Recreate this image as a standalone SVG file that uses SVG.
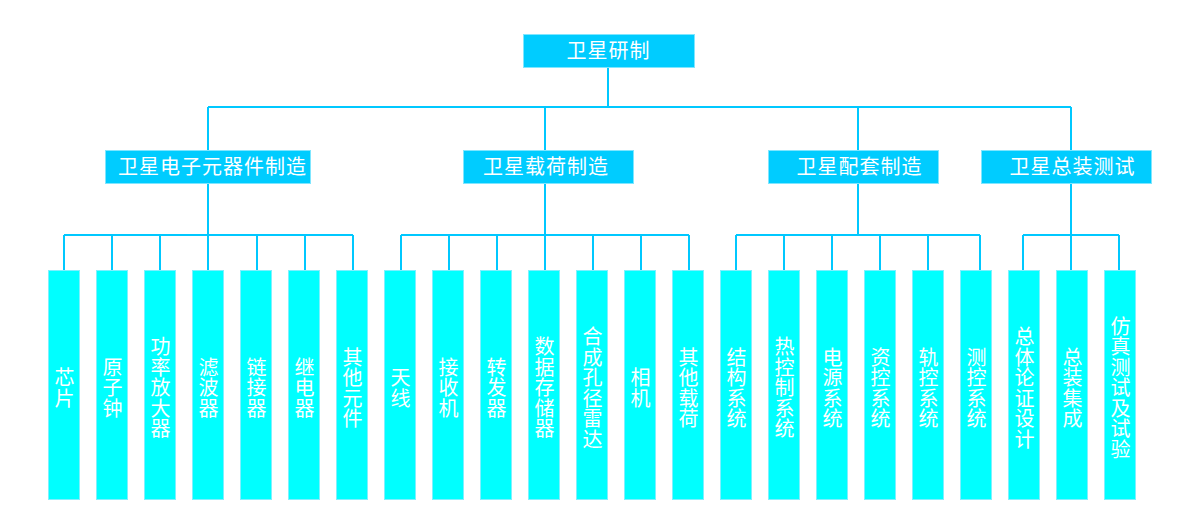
<svg xmlns="http://www.w3.org/2000/svg" width="1182" height="532" viewBox="0 0 1182 532">
<style>
.hd{fill:#00CCFF;stroke:#7FE6FF;stroke-width:1}
.lf{fill:#00FFFF;stroke:#7FF0FF;stroke-width:1}
.t{font-family:"Noto Sans CJK SC","Noto Sans",sans-serif;font-size:20px;fill:#FFFFFF;text-anchor:middle}
.ht{letter-spacing:1px}
.v{writing-mode:vertical-rl;text-orientation:upright;letter-spacing:0.5px}
.cn{stroke:#00C8FF;stroke-width:2;fill:none}
</style>
<rect width="1182" height="532" fill="#FFFFFF"/>
<g id="connectors" class="cn">
<path d="M608 68V107M208 107H1071M208 107V150M545 107V150M858 107V150M1071 107V150"/>
<path d="M208 184V235M64 235H353M64 235V270M112 235V270M160 235V270M208 235V270M257 235V270M305 235V270M353 235V270"/>
<path d="M545 184V235M401 235H689M401 235V270M449 235V270M497 235V270M545 235V270M593 235V270M641 235V270M689 235V270"/>
<path d="M858 184V235M736 235H980M736 235V270M784 235V270M832 235V270M880 235V270M928 235V270M980 235V270"/>
<path d="M1071 184V235M1023 235H1119M1023 235V270M1071 235V270M1119 235V270"/>
</g>
<g id="root"><rect class="hd" x="523.5" y="34.5" width="171" height="33"/><text class="t ht" x="608.5" y="58">卫星研制</text></g>
<g id="n1"><rect class="hd" x="105.5" y="150.5" width="205" height="33"/><text class="t ht" x="212.5" y="174">卫星电子元器件制造</text></g>
<g id="n2"><rect class="hd" x="463.5" y="150.5" width="170" height="33"/><text class="t ht" x="546" y="174">卫星载荷制造</text></g>
<g id="n3"><rect class="hd" x="768.5" y="150.5" width="170" height="33"/><text class="t ht" x="859.5" y="174">卫星配套制造</text></g>
<g id="n4"><rect class="hd" x="981.5" y="150.5" width="170" height="33"/><text class="t ht" x="1072.5" y="174">卫星总装测试</text></g>

<g id="l1"><rect class="lf" x="48.5" y="270.5" width="31" height="229"/><text class="t v" x="64.5" y="388">芯片</text></g>
<g id="l2"><rect class="lf" x="96.5" y="270.5" width="31" height="229"/><text class="t v" x="112.5" y="388">原子钟</text></g>
<g id="l3"><rect class="lf" x="144.5" y="270.5" width="31" height="229"/><text class="t v" x="160.5" y="388">功率放大器</text></g>
<g id="l4"><rect class="lf" x="192.5" y="270.5" width="31" height="229"/><text class="t v" x="208.5" y="388">滤波器</text></g>
<g id="l5"><rect class="lf" x="240.5" y="270.5" width="31" height="229"/><text class="t v" x="256.5" y="388">链接器</text></g>
<g id="l6"><rect class="lf" x="288.5" y="270.5" width="31" height="229"/><text class="t v" x="304.5" y="388">继电器</text></g>
<g id="l7"><rect class="lf" x="336.5" y="270.5" width="31" height="229"/><text class="t v" x="352.5" y="388">其他元件</text></g>

<g id="l8"><rect class="lf" x="384.5" y="270.5" width="31" height="229"/><text class="t v" x="400.5" y="388">天线</text></g>
<g id="l9"><rect class="lf" x="432.5" y="270.5" width="31" height="229"/><text class="t v" x="448.5" y="388">接收机</text></g>
<g id="l10"><rect class="lf" x="480.5" y="270.5" width="31" height="229"/><text class="t v" x="496.5" y="388">转发器</text></g>
<g id="l11"><rect class="lf" x="528.5" y="270.5" width="31" height="229"/><text class="t v" x="544.5" y="388">数据存储器</text></g>
<g id="l12"><rect class="lf" x="576.5" y="270.5" width="31" height="229"/><text class="t v" x="592.5" y="388">合成孔径雷达</text></g>
<g id="l13"><rect class="lf" x="624.5" y="270.5" width="31" height="229"/><text class="t v" x="640.5" y="388">相机</text></g>
<g id="l14"><rect class="lf" x="672.5" y="270.5" width="31" height="229"/><text class="t v" x="688.5" y="388">其他载荷</text></g>

<g id="l15"><rect class="lf" x="720.5" y="270.5" width="31" height="229"/><text class="t v" x="736.5" y="388">结构系统</text></g>
<g id="l16"><rect class="lf" x="768.5" y="270.5" width="31" height="229"/><text class="t v" x="784.5" y="388">热控制系统</text></g>
<g id="l17"><rect class="lf" x="816.5" y="270.5" width="31" height="229"/><text class="t v" x="832.5" y="388">电源系统</text></g>
<g id="l18"><rect class="lf" x="864.5" y="270.5" width="31" height="229"/><text class="t v" x="880.5" y="388">资控系统</text></g>
<g id="l19"><rect class="lf" x="912.5" y="270.5" width="31" height="229"/><text class="t v" x="928.5" y="388">轨控系统</text></g>
<g id="l20"><rect class="lf" x="960.5" y="270.5" width="31" height="229"/><text class="t v" x="976.5" y="388">测控系统</text></g>

<g id="l21"><rect class="lf" x="1008.5" y="270.5" width="31" height="229"/><text class="t v" x="1024.5" y="388">总体论证设计</text></g>
<g id="l22"><rect class="lf" x="1056.5" y="270.5" width="31" height="229"/><text class="t v" x="1072.5" y="388">总装集成</text></g>
<g id="l23"><rect class="lf" x="1104.5" y="270.5" width="31" height="229"/><text class="t v" x="1120.5" y="388">仿真测试及试验</text></g>
</svg>
